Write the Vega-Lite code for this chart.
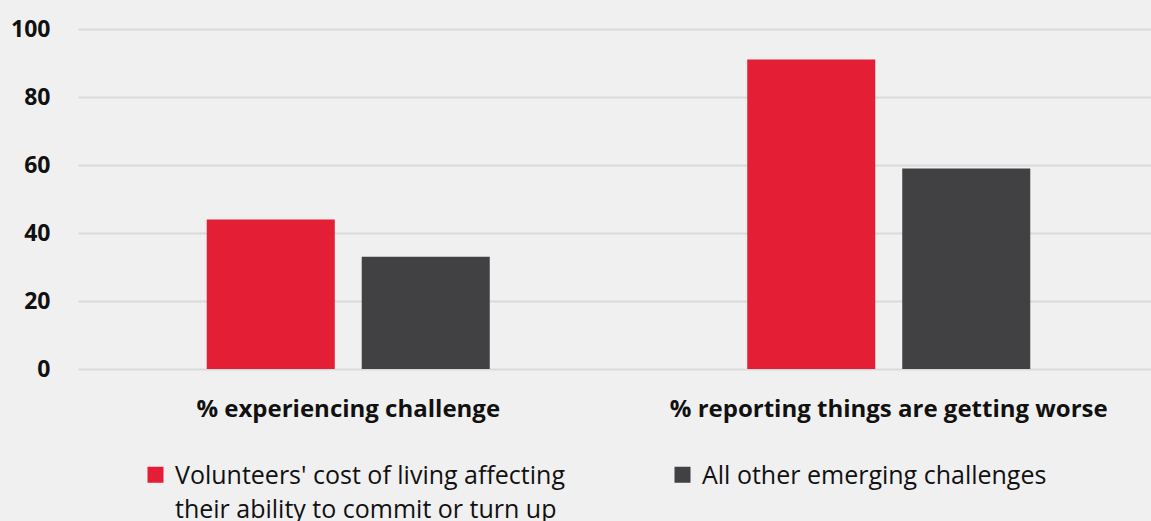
{
  "$schema": "https://vega.github.io/schema/vega-lite/v6.json",
  "width": 1081,
  "height": 340,
  "autosize": {"type": "none"},
  "padding": {"left": 78, "top": 29, "right": 0, "bottom": 152},
  "background": "#f0f0f0",
  "data": {
    "values": [
      {"measure": "% experiencing challenge", "series": "Volunteers' cost of living affecting their ability to commit or turn up", "value": 44},
      {"measure": "% experiencing challenge", "series": "All other emerging challenges", "value": 33},
      {"measure": "% reporting things are getting worse", "series": "Volunteers' cost of living affecting their ability to commit or turn up", "value": 91},
      {"measure": "% reporting things are getting worse", "series": "All other emerging challenges", "value": 59}
    ]
  },
  "mark": {"type": "bar"},
  "encoding": {
    "x": {
      "field": "measure",
      "type": "nominal",
      "sort": null,
      "scale": {"paddingInner": 0.4764, "paddingOuter": 0.2382},
      "axis": {
        "title": null,
        "labelAngle": 0,
        "domain": false,
        "ticks": false,
        "labelPadding": 28,
        "labelFont": "Open Sans",
        "labelFontWeight": "bold",
        "labelFontSize": 24,
        "labelColor": "#111111",
        "labelLimit": 600
      }
    },
    "xOffset": {
      "field": "series",
      "type": "nominal",
      "sort": null,
      "scale": {"paddingInner": 0.174, "paddingOuter": 0}
    },
    "y": {
      "field": "value",
      "type": "quantitative",
      "scale": {"domain": [0, 100]},
      "axis": {
        "title": null,
        "values": [0, 20, 40, 60, 80, 100],
        "domain": false,
        "ticks": false,
        "labelPadding": 28,
        "labelFont": "Open Sans",
        "labelFontWeight": "bold",
        "labelFontSize": 23,
        "labelColor": "#111111",
        "gridColor": "#d9d9d9",
        "gridWidth": 2
      }
    },
    "color": {
      "field": "series",
      "type": "nominal",
      "sort": null,
      "scale": {"range": ["#e31e35", "#414042"]},
      "legend": {
        "title": null,
        "orient": "none",
        "legendX": 65,
        "legendY": 433,
        "direction": "horizontal",
        "columns": 2,
        "columnPadding": 105,
        "symbolType": "square",
        "symbolSize": 256,
        "symbolStrokeWidth": 0,
        "symbolOpacity": 1,
        "labelFont": "Open Sans",
        "labelFontSize": 25,
        "labelColor": "#111111",
        "labelLimit": 700,
        "labelOffset": 7,
        "labelBaseline": "top",
        "labelExpr": "datum.label == 'All other emerging challenges' ? [datum.label, ' '] : ['Volunteers\\' cost of living affecting', 'their ability to commit or turn up']",
        "encode": {
          "labels": {
            "update": {
              "dy": {"value": -11},
              "lineHeight": {"value": 34}
            }
          }
        }
      }
    }
  },
  "config": {"view": {"stroke": null}}
}
